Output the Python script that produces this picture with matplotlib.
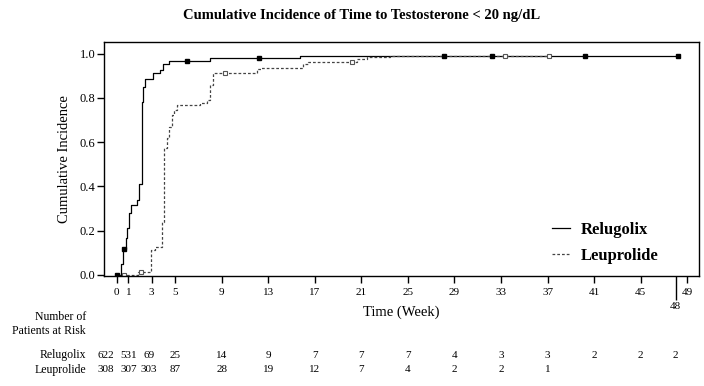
import numpy as np
import matplotlib
matplotlib.use("Agg")
import matplotlib.pyplot as plt
from matplotlib.transforms import blended_transform_factory

plt.rcParams["font.family"] = ["Liberation Serif", "DejaVu Serif"]

# step curves (week, cumulative incidence)
rel_t = [0, 0.4, 0.55, 0.75, 0.9, 1.08, 1.26, 1.77, 1.94, 2.15, 2.23, 2.43,
         3.15, 3.72, 4.0, 4.52, 8.0, 15.7, 48.2]
rel_y = [0, 0.05, 0.116, 0.165, 0.21, 0.278, 0.316, 0.338, 0.41, 0.782, 0.85,
         0.887, 0.91, 0.925, 0.952, 0.964, 0.981, 0.991, 0.991]

leu_t = [0, 1.86, 2.92, 3.29, 3.86, 4.06, 4.29, 4.52, 4.72, 4.92, 5.15, 7.16,
         7.73, 8.0, 8.3, 12.0, 12.4, 16.0, 16.4, 20.6, 21.5, 23.5, 37.1]
leu_y = [0, 0.015, 0.113, 0.128, 0.24, 0.571, 0.62, 0.669, 0.72, 0.745, 0.767,
         0.777, 0.789, 0.86, 0.91, 0.928, 0.935, 0.952, 0.962, 0.977, 0.985,
         0.99, 0.99]

# censored times
rel_cens = [0.05, 0.65, 6.07, 12.2, 28.1, 32.2, 40.2, 48.2]
leu_cens = [0.63, 2.09, 9.25, 20.2, 33.3, 37.1]

# number at risk
risk_weeks = [0, 1, 3, 5, 9, 13, 17, 21, 25, 29, 33, 37, 41, 45, 48]
rel_risk = [622, 531, 69, 25, 14, 9, 7, 7, 7, 4, 3, 3, 2, 2, 2]
leu_risk = [308, 307, 303, 87, 28, 19, 12, 7, 4, 2, 2, 1]

xticks = [0, 1, 3, 5, 9, 13, 17, 21, 25, 29, 33, 37, 41, 45, 49]


def step_at(ts, ys, x):
    i = np.searchsorted(ts, x, side="right") - 1
    return np.asarray(ys)[i]


fig = plt.figure(figsize=(7.04, 3.86), dpi=100)
ax = fig.add_axes([104 / 704, 1 - 276 / 386, 595 / 704, 234 / 386])

ax.step(rel_t, rel_y, where="post", color="black", lw=0.9, label="Relugolix")
ax.step(leu_t, leu_y, where="post", color="#444444", lw=0.9,
        linestyle=(0, (2.2, 1.6)), label="Leuprolide")

ax.plot(rel_cens, step_at(rel_t, rel_y, rel_cens), ls="none", marker="s",
        ms=3.5, color="black")
ax.plot(leu_cens, step_at(leu_t, leu_y, leu_cens), ls="none", marker="s",
        ms=3.5, mfc="white", mec="#555555", mew=0.8)

ax.set_xlim(-1.1, 50)
ax.set_ylim(-0.005, 1.052)
ax.set_yticks(np.arange(0, 1.01, 0.2))
ax.set_yticklabels(["%.1f" % v for v in np.arange(0, 1.01, 0.2)])
ax.set_xticks(xticks)
ax.set_xticks([48], minor=True)
ax.set_xticklabels(["48"], minor=True)
ax.tick_params(axis="both", which="major", labelsize=8, direction="out",
               length=5, width=1)
ax.tick_params(axis="y", pad=1, labelsize=9)
ax.tick_params(axis="x", which="major", pad=3.5)
ax.tick_params(axis="x", which="minor", length=17, width=1, labelsize=8, pad=1.5)
for s in ax.spines.values():
    s.set_linewidth(1.0)

leg = ax.legend(loc="upper left", bbox_to_anchor=(545 / 704, 1 - 215 / 386),
                bbox_transform=fig.transFigure, frameon=False,
                prop={"weight": "bold", "size": 12}, handlelength=1.1,
                handletextpad=0.66, labelspacing=0.6, borderaxespad=0)

fig.text(362 / 704, 1 - 15 / 386,
         "Cumulative Incidence of Time to Testosterone < 20 ng/dL",
         ha="center", va="center", fontsize=10.5, fontweight="bold")
fig.text(65 / 704, 1 - 159 / 386, "Cumulative Incidence", rotation=90,
         ha="center", va="center", fontsize=10.5)
fig.text(401 / 704, 1 - 312 / 386, "Time (Week)", ha="center", va="center",
         fontsize=10.5)

# risk table
fig.text(86 / 704, 1 - 317 / 386, "Number of", ha="right", va="center", fontsize=8.5)
fig.text(86 / 704, 1 - 331 / 386, "Patients at Risk", ha="right", va="center",
         fontsize=8.5)
fig.text(86 / 704, 1 - 355 / 386, "Relugolix", ha="right", va="center", fontsize=8.5)
fig.text(86 / 704, 1 - 370 / 386, "Leuprolide", ha="right", va="center", fontsize=8.5)

tr = blended_transform_factory(ax.transData, fig.transFigure)
for row, ypix in ((rel_risk, 355), (leu_risk, 370)):
    for wk, n in zip(risk_weeks, row):
        dx = -11 if wk == 0 else (-3 if wk == 3 else 0)
        ax.annotate(str(n), xy=(wk, 1 - ypix / 386), xycoords=tr,
                    xytext=(dx, 0), textcoords="offset pixels",
                    ha="center", va="center", fontsize=8, annotation_clip=False)

fig.savefig("out.png", dpi=100)
